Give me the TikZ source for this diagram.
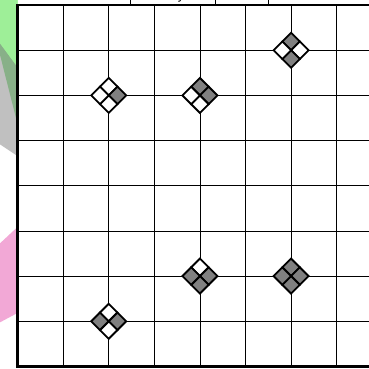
\documentclass[tikz,border=0pt]{standalone}
\usepackage{fontspec}
\setmainfont{Liberation Sans}
\definecolor{pgreen}{HTML}{9EEF98}
\definecolor{pgray}{HTML}{C0C0C0}
\definecolor{pover}{HTML}{88B088}
\definecolor{ppink}{HTML}{F2A8D6}
\definecolor{dgray}{HTML}{808080}
\begin{document}
\begin{tikzpicture}[x=1pt,y=-1pt,
  gridline/.style={black,line width=0.8pt},
  border/.style={black,line width=2.6pt},
  quarter/.style={draw=black,line width=1.8pt,line join=miter}]
\useasboundingbox (0,0) rectangle (369,368);
\clip (0,0) rectangle (369,368);
% background shapes on the left
\fill[pgray] (-5,36.5) -- (17.5,67) -- (17.5,156) -- (-5,141) -- cycle;
\fill[pgreen] (-5,-5) -- (17.5,-5) -- (17.5,120) -- (-5,35) -- cycle;
\fill[pover] (-5,36.5) -- (17.5,67) -- (17.5,124) -- (-5,35) -- cycle;
\fill[pgreen] (-5,-5) -- (17.5,-5) -- (17.5,67) -- (-5,36.5) -- cycle;
\fill[ppink] (-5,248) -- (17.5,227) -- (17.5,313) -- (-5,325) -- cycle;
% label strip above (cropped)
\draw[gridline,line width=1pt] (130,-10) -- (130,4) (215,-10) -- (215,4) (268.5,-10) -- (268.5,4);
\node[anchor=base,font=\fontsize{13}{13}\selectfont,inner sep=0pt] (ylab) at (181,-0.5) {y};
% grid
\foreach \i in {1,...,7} {
  \draw[gridline] ({17.5+45.6*\i},5) -- ({17.5+45.6*\i},366.5);
  \draw[gridline] (17.5,{5+45.19*\i}) -- (380,{5+45.19*\i});
}
\draw[border] (380,5) -- (17.5,5) -- (17.5,366.5) -- (380,366.5);
% diamonds: center x, center y, top, right, bottom, left
\newcommand\mydia[6]{%
  \begin{scope}[shift={(#1,#2)}]
    \filldraw[quarter,fill=#3] (0,-17.5) -- (8.75,-8.75) -- (0,0) -- (-8.75,-8.75) -- cycle;
    \filldraw[quarter,fill=#4] (17.5,0) -- (8.75,8.75) -- (0,0) -- (8.75,-8.75) -- cycle;
    \filldraw[quarter,fill=#5] (0,17.5) -- (-8.75,8.75) -- (0,0) -- (8.75,8.75) -- cycle;
    \filldraw[quarter,fill=#6] (-17.5,0) -- (-8.75,-8.75) -- (0,0) -- (-8.75,8.75) -- cycle;
  \end{scope}}
\mydia{108.7}{95.4}{white}{dgray}{white}{white}
\mydia{199.9}{95.4}{dgray}{dgray}{white}{white}
\mydia{291.1}{50.2}{dgray}{white}{dgray}{white}
\mydia{199.9}{276.1}{white}{dgray}{dgray}{dgray}
\mydia{291.1}{276.1}{dgray}{dgray}{dgray}{dgray}
\mydia{108.7}{321.3}{white}{dgray}{white}{dgray}
\end{tikzpicture}
\end{document}
